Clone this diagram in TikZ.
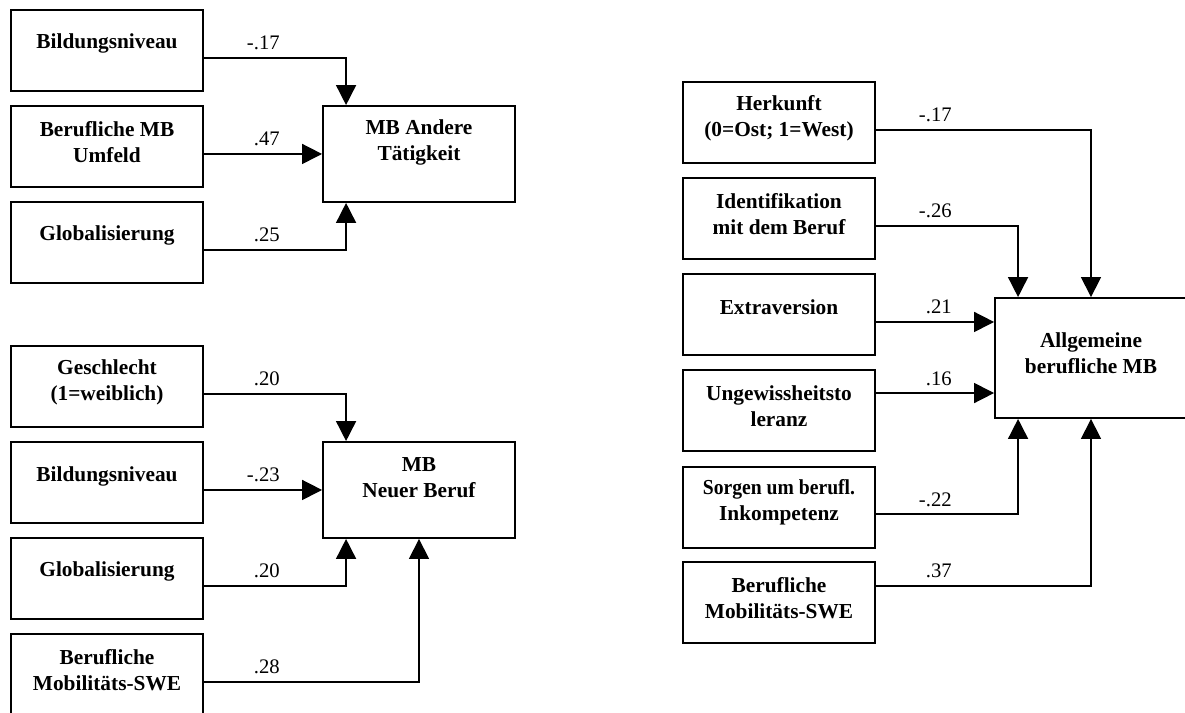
\documentclass[tikz,border=0pt]{standalone}
\usepackage{fontspec}
\setmainfont{Liberation Serif}
\usepackage{graphicx}
\usetikzlibrary{arrows.meta}
\tikzset{
  box/.style={draw, line width=1.4pt, minimum width=144pt, minimum height=60.75pt, inner sep=0pt},
  target/.style={box, minimum height=72pt},
  bigtarget/.style={box, minimum height=90pt},
  boxtext/.style={align=center, inner sep=0pt, font=\bfseries\fontsize{16}{19.5}\selectfont},
  coef/.style={anchor=base east, inner sep=0pt, font=\fontsize{15.5}{18}\selectfont},
  conn/.style={line width=1.2pt, -{Triangle[length=15pt,width=15pt]}},
}
\begin{document}
\begin{tikzpicture}[x=0.75pt, y=-0.75pt]
\useasboundingbox (0,0) rectangle (1185,713);
\fill[white] (0,0) rectangle (1185,713);
\clip (0,0) rectangle (1185,713);

% ---------- model 1: MB Andere Taetigkeit ----------
\node[box] (b1) at (107,50.5) {};
\node[box] (b2) at (107,146.5) {};
\node[box] (b3) at (107,242.5) {};
\node[target] (t1) at (419,154) {};
\node[boxtext] (b1t) at (107,43) {Bildungsniveau};
\node[boxtext] (b2t) at (107,142) {Berufliche MB\\Umfeld};
\node[boxtext] (b3t) at (107,235) {Globalisierung};
\node[boxtext] (t1t) at (419,142) {MB Andere\\Tätigkeit};

\coordinate (b1o) at ([yshift=-5.6pt]b1.east);
\coordinate (b2o) at ([yshift=-5.6pt]b2.east);
\coordinate (b3o) at ([yshift=-5.6pt]b3.east);
\draw[conn] (b1o) -| ([xshift=18pt]t1.north west);
\draw[conn] (b2o) -- (b2o -| t1.west);
\draw[conn] (b3o) -| ([xshift=18pt]t1.south west);
\node[coef] (k1) at ([xshift=57pt,yshift=6pt]b1o) {-.17};
\node[coef] (k2) at ([xshift=57pt,yshift=6pt]b2o) {.47};
\node[coef] (k3) at ([xshift=57pt,yshift=6pt]b3o) {.25};

% ---------- model 2: MB Neuer Beruf ----------
\node[box] (c1) at (107,386.5) {};
\node[box] (c2) at (107,482.5) {};
\node[box] (c3) at (107,578.5) {};
\node[box] (c4) at (107,674.5) {};
\node[target] (t2) at (419,490) {};
\node[boxtext] (c1t) at (107,382.5) {Geschlecht\\(1=weiblich)};
\node[boxtext] (c2t) at (107,476) {Bildungsniveau};
\node[boxtext] (c3t) at (107,571) {Globalisierung};
\node[boxtext] (c4t) at (107,670) {Berufliche\\Mobilitäts-SWE};
\node[boxtext] (t2t) at (419,478) {MB\\Neuer Beruf};

\coordinate (c1o) at ([yshift=-5.6pt]c1.east);
\coordinate (c2o) at ([yshift=-5.6pt]c2.east);
\coordinate (c3o) at ([yshift=-5.6pt]c3.east);
\coordinate (c4o) at ([yshift=-5.6pt]c4.east);
\draw[conn] (c1o) -| ([xshift=18pt]t2.north west);
\draw[conn] (c2o) -- (c2o -| t2.west);
\draw[conn] (c3o) -| ([xshift=18pt]t2.south west);
\draw[conn] (c4o) -| (t2.south);
\node[coef] (k4) at ([xshift=57pt,yshift=6pt]c1o) {.20};
\node[coef] (k5) at ([xshift=57pt,yshift=6pt]c2o) {-.23};
\node[coef] (k6) at ([xshift=57pt,yshift=6pt]c3o) {.20};
\node[coef] (k7) at ([xshift=57pt,yshift=6pt]c4o) {.28};

% ---------- model 3: Allgemeine berufliche MB ----------
\node[box] (r1) at (779,122.5) {};
\node[box] (r2) at (779,218.5) {};
\node[box] (r3) at (779,314.5) {};
\node[box] (r4) at (779,410.5) {};
\node[box] (r5) at (779,507.5) {};
\node[box] (r6) at (779,602.5) {};
\node[bigtarget] (tr) at (1091,358) {};
\node[boxtext] (r1t) at (779,118.5) {Herkunft\\(0=Ost; 1=West)};
\node[boxtext] (r2t) at (779,214.5) {Identifikation\\mit dem Beruf};
\node[boxtext] (r3t) at (779,307) {Extraversion};
\node[boxtext] (r4t) at (779,406) {Ungewissheitsto\\leranz};
\node[boxtext] (r5t) at (779,502.5) {\scalebox{0.92}[1]{Sorgen um berufl.}\\Inkompetenz};
\node[boxtext] (r6t) at (779,598) {Berufliche\\Mobilitäts-SWE};
\node[boxtext] (trt) at (1091,353.5) {Allgemeine\\berufliche MB};

\coordinate (r1o) at ([yshift=-5.6pt]r1.east);
\coordinate (r2o) at ([yshift=-5.6pt]r2.east);
\coordinate (r3o) at ([yshift=-5.6pt]r3.east);
\coordinate (r4o) at ([yshift=13.1pt]r4.east);
\coordinate (r5o) at ([yshift=-4.9pt]r5.east);
\coordinate (r6o) at ([yshift=12.4pt]r6.east);
\draw[conn] (r1o) -| (tr.north);
\draw[conn] (r2o) -| ([xshift=18pt]tr.north west);
\draw[conn] (r3o) -- (r3o -| tr.west);
\draw[conn] (r4o) -- (r4o -| tr.west);
\draw[conn] (r5o) -| ([xshift=18pt]tr.south west);
\draw[conn] (r6o) -| (tr.south);
\node[coef] (k8) at ([xshift=57pt,yshift=6pt]r1o) {-.17};
\node[coef] (k9) at ([xshift=57pt,yshift=6pt]r2o) {-.26};
\node[coef] (k10) at ([xshift=57pt,yshift=6pt]r3o) {.21};
\node[coef] (k11) at ([xshift=57pt,yshift=6pt]r4o) {.16};
\node[coef] (k12) at ([xshift=57pt,yshift=6pt]r5o) {-.22};
\node[coef] (k13) at ([xshift=57pt,yshift=6pt]r6o) {.37};
\end{tikzpicture}
\end{document}
